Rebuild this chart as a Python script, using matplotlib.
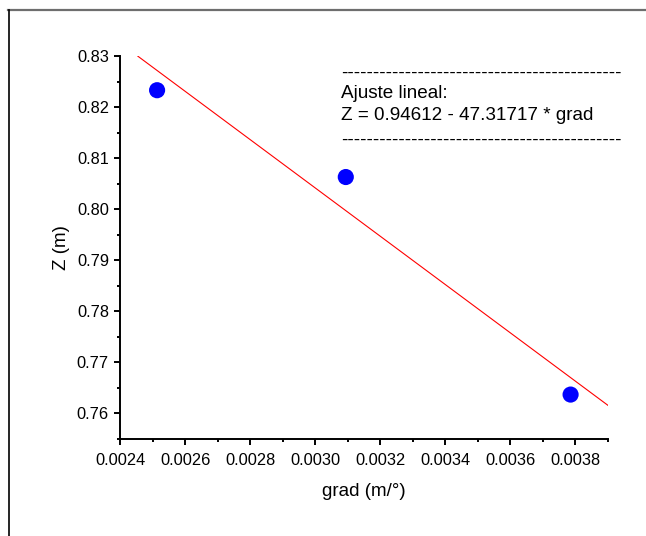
import matplotlib
matplotlib.use("Agg")
import matplotlib.pyplot as plt
from matplotlib.lines import Line2D
from matplotlib.ticker import MultipleLocator, FormatStrFormatter
import numpy as np

plt.rcParams['font.family'] = ['Liberation Sans', 'DejaVu Sans']

# measured data
grad = [0.002514, 0.003094, 0.003785]
z = [0.8233, 0.8063, 0.7637]

# linear fit coefficients
intercept = 0.94612
slope = -47.31717
fit_x = np.array([0.002455, 0.0039])
fit_y = intercept + slope * fit_x

fig = plt.figure(figsize=(6.46, 5.36), dpi=100)
ax = fig.add_axes([120/646, 97/536, (608-120)/646, (439-56)/536])

ax.plot(fit_x, fit_y, color='red', lw=0.8, zorder=2)
ax.scatter(grad, z, s=135, color='#0000ff', edgecolor='none', zorder=3)

ax.set_xlim(0.0024, 0.0039)
ax.set_ylim(0.755, 0.83)
ax.xaxis.set_major_locator(MultipleLocator(0.0002))
ax.xaxis.set_minor_locator(MultipleLocator(0.0001))
ax.yaxis.set_major_locator(MultipleLocator(0.01))
ax.yaxis.set_minor_locator(MultipleLocator(0.005))
ax.xaxis.set_major_formatter(FormatStrFormatter('%.4f'))
ax.yaxis.set_major_formatter(FormatStrFormatter('%.2f'))

for s in ('top', 'right'):
    ax.spines[s].set_visible(False)
for s in ('left', 'bottom'):
    ax.spines[s].set_linewidth(1.4)
ax.tick_params(which='major', direction='out', length=4.5, width=1.4, labelsize=11.8)
ax.tick_params(axis='x', which='major', pad=5.5)
ax.tick_params(axis='y', which='major', pad=3.5)
ax.tick_params(which='minor', direction='out', length=2.4, width=1.4)

ax.set_xlabel('grad (m/°)', fontsize=13.5, labelpad=11)
ax.set_ylabel('Z (m)', fontsize=13.5, labelpad=5)

dashes = '-' * 44
box_font = 13.6
fig.text(341/646, 1 - 73/536, dashes, fontsize=box_font, va='center', ha='left')
fig.text(341/646, 1 - 93/536, 'Ajuste lineal:', fontsize=box_font, va='center', ha='left')
fig.text(341/646, 1 - 116/536, 'Z = 0.94612 - 47.31717 * grad', fontsize=box_font, va='center', ha='left')
fig.text(341/646, 1 - 140/536, dashes, fontsize=box_font, va='center', ha='left')

# page frame
fig.add_artist(Line2D([8/646, 1], [1 - 9.5/536, 1 - 9.5/536], color='#6e6e6e', lw=1.6, transform=fig.transFigure))
fig.add_artist(Line2D([8.5/646, 8.5/646], [0, 1 - 9.5/536], color='black', lw=1.2, transform=fig.transFigure))

fig.savefig('out.png', dpi=100)
